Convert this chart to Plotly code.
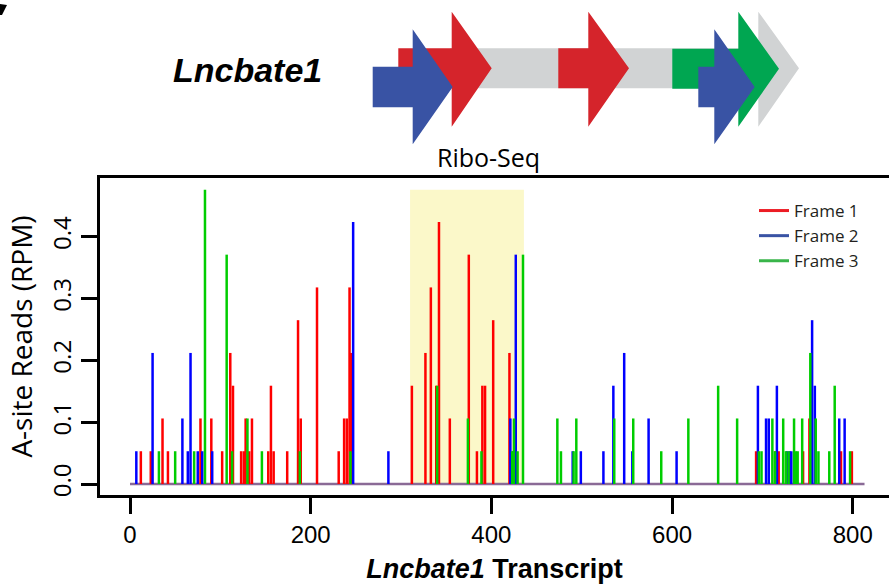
import plotly.graph_objects as go

# ---------------- data (nt position, A-site reads in RPM) ----------------
frame1_pos = [12, 23, 36, 42, 78, 90, 102, 111, 114, 123, 126, 128, 132, 135, 153, 156, 159, 174,
              186, 189, 207, 231, 237, 240, 243, 245, 312, 327, 333, 339, 342, 354, 375, 384, 390,
              393, 402, 420, 693, 714, 718, 745, 752, 787, 799]
frame1_val = [0.053, 0.053, 0.106, 0.053, 0.106, 0.106, 0.053, 0.212, 0.159, 0.053, 0.053, 0.106,
              0.053, 0.106, 0.053, 0.159, 0.053, 0.053, 0.265, 0.106, 0.318, 0.053, 0.106, 0.106,
              0.318, 0.212, 0.159, 0.212, 0.318, 0.159, 0.424, 0.106, 0.371, 0.053, 0.159, 0.159,
              0.265, 0.212, 0.053, 0.053, 0.053, 0.053, 0.106, 0.053, 0.053]

frame2_pos = [7, 25, 58, 64, 67, 75, 80, 91, 247, 286, 421, 424, 427, 490, 499, 524, 535, 547,
              556, 574, 605, 695, 704, 707, 716, 727, 730, 732, 755, 758, 785, 791]
frame2_val = [0.053, 0.212, 0.106, 0.053, 0.212, 0.053, 0.053, 0.053, 0.424, 0.053, 0.106, 0.053,
              0.371, 0.053, 0.053, 0.053, 0.159, 0.212, 0.053, 0.106, 0.053, 0.159, 0.106, 0.106,
              0.159, 0.053, 0.053, 0.053, 0.265, 0.159, 0.106, 0.106]

frame3_pos = [32, 50, 71, 83, 107, 113, 130, 146, 188, 244, 340, 374, 389, 423, 425, 429, 435,
              473, 477, 491, 494, 536, 557, 588, 618, 651, 672, 696, 699, 711, 714, 723, 726, 729,
              735, 737, 739, 744, 753, 759, 762, 774, 780, 797]
frame3_val = [0.053, 0.053, 0.053, 0.476, 0.371, 0.053, 0.106, 0.053, 0.053, 0.053, 0.159, 0.106,
              0.053, 0.053, 0.106, 0.053, 0.371, 0.106, 0.053, 0.053, 0.106, 0.106, 0.106, 0.053,
              0.106, 0.159, 0.106, 0.053, 0.053, 0.106, 0.053, 0.106, 0.053, 0.053, 0.106, 0.053,
              0.053, 0.106, 0.212, 0.106, 0.053, 0.053, 0.159, 0.053]

transcript_length = 813
orf_region = (310, 436)          # highlighted region (nt)
orf_region_top = 0.476

frame_names = ["Frame 1", "Frame 2", "Frame 3"]
y_ticks = [0.0, 0.1, 0.2, 0.3, 0.4]
x_ticks = [0, 200, 400, 600, 800]

# ---------------- styles ----------------
bar_colors = ["#FF0000", "#0000FF", "#00CD00"]
legend_colors = ["#EC1C24", "#3953A4", "#39B54A"]
ARROW_RED, ARROW_BLUE, ARROW_GREEN, ARROW_GRAY = "#D5242B", "#3953A4", "#00A651", "#D1D3D4"

# plot area in pixels
W, H = 889, 586
L, R, T, B = 100, 889, 178, 495


def px(x):
    return (x - L) / (R - L)


def py(y):
    return (B - y) / (B - T)


def spikes(xs, ys):
    X, Y = [], []
    for x, y in zip(xs, ys):
        X += [x, x, None]
        Y += [0, y, None]
    return X, Y


fig = go.Figure()

# baseline (zero reads everywhere)
fig.add_trace(go.Scatter(x=[0, transcript_length], y=[0, 0], mode="lines",
                         line=dict(color="#8A6A96", width=2.5), showlegend=False,
                         hoverinfo="skip"))

for pos, val, col in zip([frame1_pos, frame2_pos, frame3_pos],
                         [frame1_val, frame2_val, frame3_val], bar_colors):
    X, Y = spikes(pos, val)
    fig.add_trace(go.Scatter(x=X, y=Y, mode="lines", line=dict(color=col, width=2.5),
                             showlegend=False, connectgaps=False))

for name, col in zip(frame_names, legend_colors):
    fig.add_trace(go.Scatter(x=[None], y=[None], mode="lines", name=name,
                             line=dict(color=col, width=3)))

shapes = []
# highlighted region
shapes.append(dict(type="rect", xref="x", yref="y", x0=orf_region[0], x1=orf_region[1],
                   y0=0, y1=orf_region_top, fillcolor="#FBF8C9", line=dict(width=0),
                   layer="below"))


def arrow(x0, xh, xt, bt, bb, ht, hb, color):
    cy = (bt + bb) / 2
    pts = [(x0, bt), (xh, bt), (xh, ht), (xt, cy), (xh, hb), (xh, bb), (x0, bb)]
    path = "M " + " L ".join(f"{px(a):.5f},{py(b):.5f}" for a, b in pts) + " Z"
    return dict(type="path", xref="paper", yref="paper", path=path,
                fillcolor=color, line=dict(width=0), layer="above")


shapes.append(arrow(450, 758.3, 799, 48.3, 88.3, 11.7, 126.7, ARROW_GRAY))
shapes.append(arrow(398.3, 451.7, 491.7, 48.3, 88.3, 11.7, 126.7, ARROW_RED))
shapes.append(arrow(558.3, 588.3, 629, 48.3, 88.3, 11.7, 126.7, ARROW_RED))
shapes.append(arrow(672.3, 738.3, 779, 48.8, 88.8, 11.7, 126.7, ARROW_GREEN))
shapes.append(arrow(372.7, 412.7, 452.7, 66.7, 107.3, 29.3, 144.3, ARROW_BLUE))
shapes.append(arrow(698.3, 714.3, 754.7, 66.7, 107.3, 29.3, 144.3, ARROW_BLUE))

# fragment of panel letter at top-left corner
frag = [(0, 4), (7, 5), (2, 15), (0, 15)]
shapes.append(dict(type="path", xref="paper", yref="paper",
                   path="M " + " L ".join(f"{px(a):.5f},{py(b):.5f}" for a, b in frag) + " Z",
                   fillcolor="black", line=dict(width=0)))

annotations = [
    dict(text="<b><i>Lncbate1</i></b>", xref="paper", yref="paper", x=px(247), y=py(70),
         showarrow=False, font=dict(family="Liberation Sans, Arial", size=34, color="black"),
         xanchor="center", yanchor="middle"),
    dict(text="Ribo-Seq", xref="paper", yref="paper", x=px(488), y=py(157),
         showarrow=False, font=dict(family="Open Sans", size=25, color="black"),
         xanchor="center", yanchor="middle"),
]

fig.update_layout(
    width=W, height=H,
    margin=dict(l=L, r=W - R, t=T, b=H - B, pad=0),
    paper_bgcolor="white", plot_bgcolor="white",
    shapes=shapes, annotations=annotations,
    showlegend=True,
    legend=dict(x=px(754), y=py(193), xanchor="left", yanchor="top",
                font=dict(family="Open Sans", size=17, color="#231F20"),
                bgcolor="rgba(0,0,0,0)", tracegroupgap=0, itemwidth=30),
    xaxis=dict(range=[-33.2, 840.1], tickvals=x_ticks, ticktext=[str(v) for v in x_ticks],
               showgrid=False, zeroline=False, showline=True, linecolor="black", linewidth=3,
               mirror=True, ticks="outside", ticklen=16, tickwidth=3, tickcolor="black",
               tickfont=dict(family="Liberation Sans, Arial", size=24, color="black"),
               title=dict(text="<b><i>Lncbate1</i> Transcript</b>", standoff=13,
                          font=dict(family="Liberation Sans, Arial", size=27, color="black"))),
    yaxis=dict(range=[-0.0178, 0.495], tickvals=y_ticks, ticktext=[f"{v:.1f}" for v in y_ticks],
               showgrid=False, zeroline=False, showline=True, linecolor="black", linewidth=3,
               mirror=False, ticks="outside", ticklen=16, tickwidth=3, tickcolor="black",
               tickangle=-90,
               tickfont=dict(family="Open Sans", size=24, color="black"),
               title=dict(text="A-site Reads (RPM)", standoff=5,
                          font=dict(family="Open Sans", size=28, color="black"))),
)

fig.write_html("out.html")
